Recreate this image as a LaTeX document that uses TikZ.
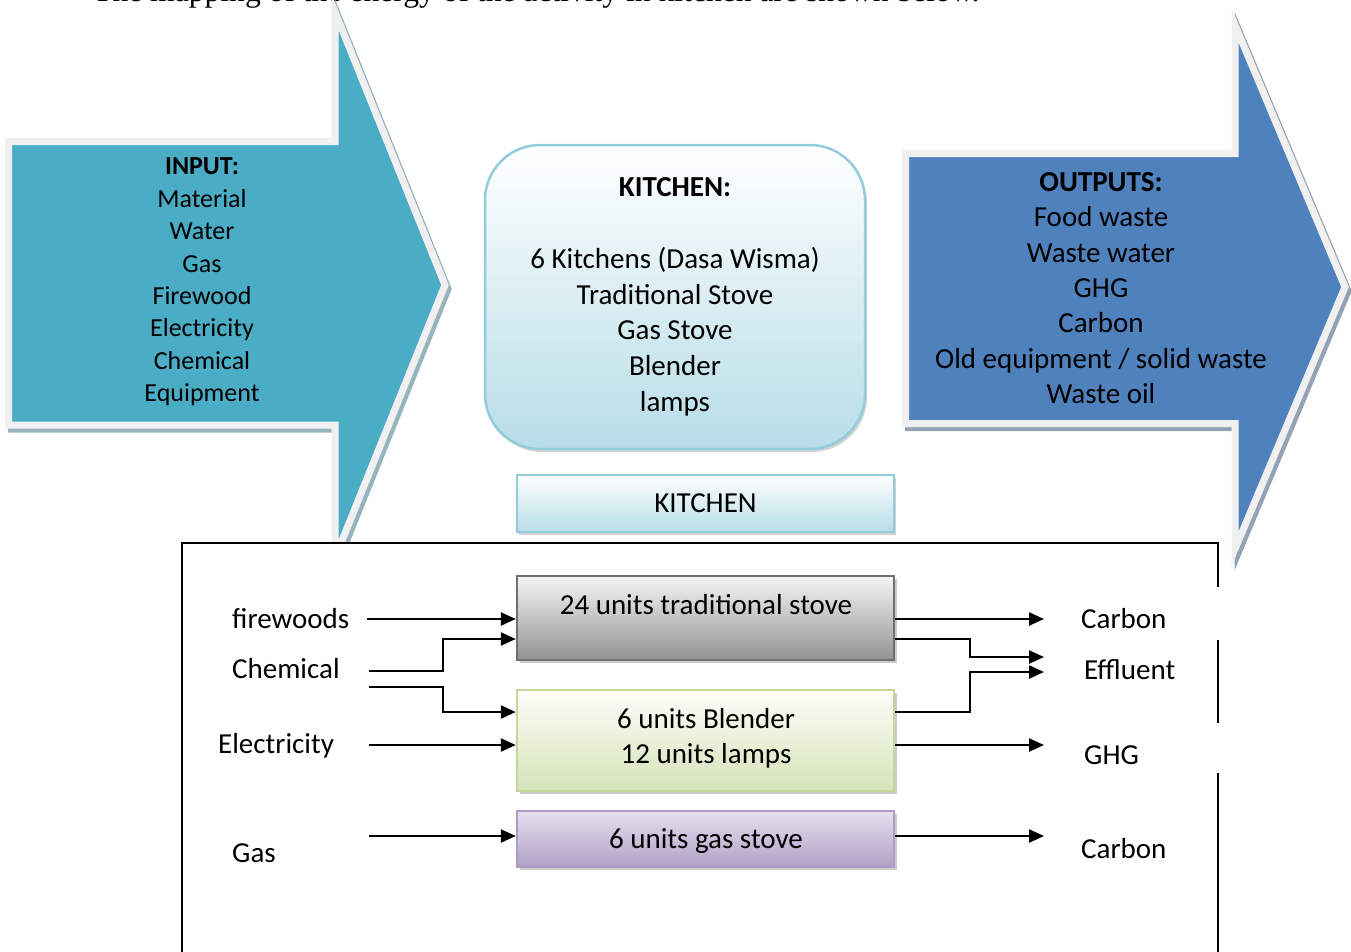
\documentclass[tikz,border=0pt]{standalone}
\usepackage{fontspec}
\setmainfont{Carlito}
\newfontfamily\serifface{Liberation Serif}
\usetikzlibrary{arrows.meta,shadows}
\definecolor{tealA}{HTML}{4BACC6}
\definecolor{tealSh}{HTML}{97B3BC}
\definecolor{blueA}{HTML}{4F81BD}
\definecolor{blueSh}{HTML}{95A2B5}
\definecolor{outl}{HTML}{F0F0F0}
\definecolor{kbord}{HTML}{93CDDD}
\definecolor{kblue}{HTML}{B7DDE8}
\definecolor{grayTop}{HTML}{F5F5F5}
\definecolor{grayBot}{HTML}{929292}
\definecolor{grayBord}{HTML}{6F6F6F}
\definecolor{greenTop}{HTML}{FDFEF9}
\definecolor{greenBot}{HTML}{D5E3B9}
\definecolor{greenBord}{HTML}{C4D79B}
\definecolor{purpTop}{HTML}{E6E0EE}
\definecolor{purpBot}{HTML}{B1A0C7}
\definecolor{purpBord}{HTML}{AE9CC6}
\begin{document}
\begin{tikzpicture}[x=1pt,y=-1pt,
  txt/.style={inner sep=0pt, font=\fontsize{29}{35}\selectfont},
  flow/.style={draw=black, line width=2.4pt, -{Triangle[length=15pt,width=13pt]}},
  procbox/.style={draw, line width=2.4pt, minimum width=377pt, inner sep=0pt,
    drop shadow={shadow xshift=3pt, shadow yshift=-3pt, fill=black!40, opacity=0.5}},
  bigarrow/.style={draw=outl, line width=7pt, line join=miter},
  boxline/.style={draw=black, line width=2pt}
]
\useasboundingbox (0,0) rectangle (1351,951);

% cut-off caption line at the top
\node[anchor=base west, inner sep=0pt, font=\serifface\fontsize{31.6}{38}\selectfont] (caption) at (93,1)
  {The mapping of the energy of the activity in kitchen are shown below.};

% INPUT arrow
\begin{scope}[shift={(3,4)}]
  \draw[draw=tealSh, fill=tealSh, line width=7pt, line join=miter]
    (8.5,141.5) -- (335,141.5) -- (335,12) -- (445,285) -- (335,558) -- (335,425) -- (8.5,425) -- cycle;
\end{scope}
\draw[bigarrow, fill=tealA]
  (8.5,141.5) -- (335,141.5) -- (335,12) -- (445,285) -- (335,558) -- (335,425) -- (8.5,425) -- cycle;
\node[align=center, inner sep=0pt, font=\fontsize{26}{32.4}\selectfont] (input) at (202,282)
  {\textbf{INPUT:}\\Material\\Water\\Gas\\Firewood\\Electricity\\Chemical\\Equipment};

% OUTPUTS arrow
\begin{scope}[shift={(3,4)}]
  \draw[draw=blueSh, fill=blueSh, line width=7pt, line join=miter]
    (905.5,153.5) -- (1235,153.5) -- (1235,25) -- (1345,287) -- (1235,549) -- (1235,423.5) -- (905.5,423.5) -- cycle;
\end{scope}
\draw[bigarrow, fill=blueA]
  (905.5,153.5) -- (1235,153.5) -- (1235,25) -- (1345,287) -- (1235,549) -- (1235,423.5) -- (905.5,423.5) -- cycle;
\node[align=center, inner sep=0pt, font=\fontsize{29}{35.4}\selectfont] (outputs) at (1101,288)
  {\textbf{OUTPUTS:}\\Food waste\\Waste water\\GHG\\Carbon\\Old equipment / solid waste\\Waste oil};

% KITCHEN rounded box
\node[draw=kbord, line width=2.5pt, rounded corners=55pt, minimum width=380pt, minimum height=304pt,
  top color=white, bottom color=kblue, align=center, inner sep=0pt,
  drop shadow={shadow xshift=2pt, shadow yshift=-3pt, fill=black!35, opacity=0.5},
  font=\fontsize{29}{35.8}\selectfont] (kitchen) at (675,297)
  {\textbf{KITCHEN:}\\[35.8pt]6 Kitchens (Dasa Wisma)\\Traditional Stove\\Gas Stove\\Blender\\lamps};

% KITCHEN bar
\node[draw=kbord, line width=2.4pt, minimum width=377pt, minimum height=57pt, inner sep=0pt,
  top color=white, bottom color=kblue,
  drop shadow={shadow xshift=2pt, shadow yshift=-3pt, fill=black!35, opacity=0.5},
  font=\fontsize{29}{35}\selectfont] (kbar) at (705.5,503.5) {KITCHEN};

% big frame
\fill[white] (182,543) rectangle (1218,960);
\draw[boxline] (182,960) -- (182,543) -- (1218,543) -- (1218,587);
\draw[boxline] (1218,640) -- (1218,723);
\draw[boxline] (1218,773) -- (1218,960);

% process boxes
\node[procbox, draw=grayBord, top color=grayTop, bottom color=grayBot, minimum height=84pt] (stove) at (705.5,618) {};
\node[txt] (stoveT) at (706,605) {24 units traditional stove};
\node[procbox, draw=greenBord, top color=greenTop, bottom color=greenBot, minimum height=101pt] (blend) at (705.5,740.5) {};
\node[txt, align=center, font=\fontsize{29}{35}\selectfont] (blendT) at (706,738) {6 units Blender\\12 units lamps};
\node[procbox, draw=purpBord, top color=purpTop, bottom color=purpBot, minimum height=56pt] (gasst) at (705.5,839) {};
\node[txt] (gasstT) at (706,841) {6 units gas stove};

% left labels
\node[txt, anchor=base west] (fw) at (232,628) {firewoods};
\node[txt, anchor=base west] (chem) at (232,678) {Chemical};
\node[txt, anchor=base west] (elec) at (218,753) {Electricity};
\node[txt, anchor=base west] (gas) at (232,862) {Gas};

% right labels
\node[txt, anchor=base west] (carb1) at (1081,628) {Carbon};
\node[txt, anchor=base west] (eff) at (1084,679) {Effluent};
\node[txt, anchor=base west] (ghg) at (1084,764) {GHG};
\node[txt, anchor=base west] (carb2) at (1081,858) {Carbon};

% connector end points
\coordinate (fwS) at (367,619);
\coordinate (chA) at (369,671);
\coordinate (chB) at (369,687);
\coordinate (elS) at (369,745);
\coordinate (gaS) at (369,836);
\coordinate (o1) at (1044,619);
\coordinate (o2) at (1044,657);
\coordinate (o3) at (1044,672);
\coordinate (o4) at (1044,745);
\coordinate (o5) at (1044,836);

\draw[flow] (fwS) -- (stove.west |- fwS);
\draw[flow] (chA) -- ++(74,0) |- (stove.west |- 0,639);
\draw[flow] (chB) -- ++(74,0) |- (blend.west |- 0,712);
\draw[flow] (elS) -- (blend.west |- elS);
\draw[flow] (gaS) -- (gasst.west |- gaS);

\draw[flow] (stove.east |- o1) -- (o1);
\draw[flow] (stove.east |- 0,639) -- ++(75,0) |- (o2);
\draw[flow] (blend.east |- 0,712) -- ++(75,0) |- (o3);
\draw[flow] (blend.east |- o4) -- (o4);
\draw[flow] (gasst.east |- o5) -- (o5);
\end{tikzpicture}
\end{document}
